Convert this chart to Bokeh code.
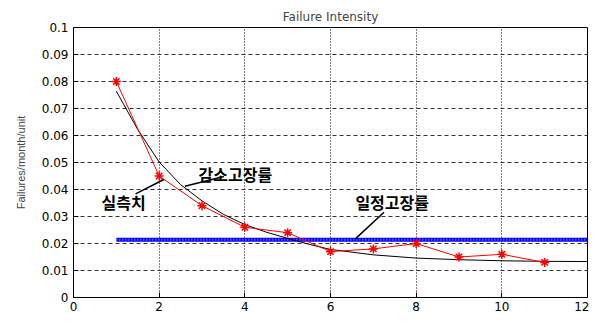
from bokeh.plotting import figure
from bokeh.models import Range1d, FixedTicker, Label, ColumnDataSource
from bokeh.embed import file_html
from bokeh.resources import INLINE

# ---- data ----
months = [1, 2, 3, 4, 5, 6, 7, 8, 9, 10, 11]
measured = [0.080, 0.045, 0.034, 0.026, 0.024, 0.017, 0.018, 0.020, 0.015, 0.016, 0.013]
fit_x = [1, 1.5, 2, 2.5, 3, 3.5, 4, 4.5, 5, 5.5, 6, 7, 8, 9, 10, 11, 12]
fit_y = [0.0764, 0.0622, 0.0502, 0.0418, 0.0358, 0.0308, 0.0270, 0.0242, 0.0219,
         0.0197, 0.0178, 0.0158, 0.0146, 0.0140, 0.0136, 0.0134, 0.0133]
const_x = [1, 12]
const_y = [0.0214, 0.0214]
x_ticks = [0, 2, 4, 6, 8, 10, 12]
y_ticks = [0, 0.01, 0.02, 0.03, 0.04, 0.05, 0.06, 0.07, 0.08, 0.09, 0.1]
y_tick_labels = ["0", "0.01", "0.02", "0.03", "0.04", "0.05", "0.06", "0.07", "0.08", "0.09", "0.1"]

FONT = "DejaVu Sans"
KFONT = "Noto Sans CJK KR"

p = figure(width=589, height=322, output_backend="svg", toolbar_location=None,
           x_range=Range1d(0, 12), y_range=Range1d(0, 0.1),
           min_border_left=73, min_border_right=2, min_border_top=27, min_border_bottom=25,
           title="Failure Intensity")
p.title.align = "center"
p.title.text_font = FONT
p.title.text_font_size = "12px"
p.title.text_font_style = "normal"
p.title.standoff = 7
p.title.offset = 0

p.outline_line_color = "black"
p.outline_line_width = 1
p.background_fill_color = "white"
p.border_fill_color = "white"

# axes
p.xaxis.ticker = FixedTicker(ticks=x_ticks)
p.yaxis.ticker = FixedTicker(ticks=y_ticks)
p.yaxis.major_label_overrides = {t: l for t, l in zip(y_ticks, y_tick_labels)}
for ax in (p.xaxis[0], p.yaxis[0]):
    ax.major_tick_in = 5
    ax.major_tick_out = 0
    ax.minor_tick_line_color = None
    ax.axis_line_color = "black"
    ax.major_tick_line_color = "black"
    ax.major_label_text_font = FONT
    ax.major_label_text_font_size = "12px"
    ax.major_label_text_color = "black"
p.xaxis.major_label_standoff = 4
p.yaxis.major_label_standoff = 5
p.yaxis.axis_label = "Failures/month/unit"
p.yaxis.axis_label_text_font = "Liberation Sans"
p.yaxis.axis_label_text_font_size = "11px"
p.yaxis.axis_label_text_font_style = "normal"
p.yaxis.axis_label_standoff = 12

# grid
p.xgrid.ticker = FixedTicker(ticks=x_ticks)
p.ygrid.ticker = FixedTicker(ticks=y_ticks)
p.xgrid.grid_line_color = "black"
p.xgrid.grid_line_dash = "1 2"
p.ygrid.grid_line_color = "#333333"
p.ygrid.grid_line_dash = "4 3"
p.xgrid.grid_line_width = 1
p.ygrid.grid_line_width = 1

# constant failure rate (blue dotted thick)
p.line(const_x, const_y, line_color="#0000ff", line_width=4)
p.line(const_x, const_y, line_color="#8080ff", line_width=2, line_dash="1 2")

# fitted decreasing curve
p.line(fit_x, fit_y, line_color="black", line_width=1)

# measured
p.line(months, measured, line_color="red", line_width=1)
p.scatter(months, measured, marker="asterisk", size=9, line_color="red", line_width=1.5)

# leader lines
leaders = ColumnDataSource(dict(x0=[2.60, 1.45, 6.58], y0=[0.0412, 0.0384, 0.0217],
                                x1=[3.51, 2.11, 7.25], y1=[0.0448, 0.0437, 0.0316]))
p.segment(x0="x0", y0="y0", x1="x1", y1="y1", source=leaders, line_color="black", line_width=1.5)

for txt, x, y in [("감소고장률", 3.78, 0.0458), ("실측치", 1.17, 0.0352), ("일정고장률", 7.44, 0.0353)]:
    p.add_layout(Label(x=x, y=y, text=txt, text_font=KFONT, text_font_size="16px",
                       text_font_style="bold", text_align="center", text_baseline="middle",
                       text_color="black"))

# x axis label
p.add_layout(Label(x=6, y=-0.0048, text="Month from Release", text_font=FONT,
                   text_font_size="11px", text_align="center", text_baseline="top",
                   text_color="black"))

open("out.html", "w").write(file_html(p, INLINE))
